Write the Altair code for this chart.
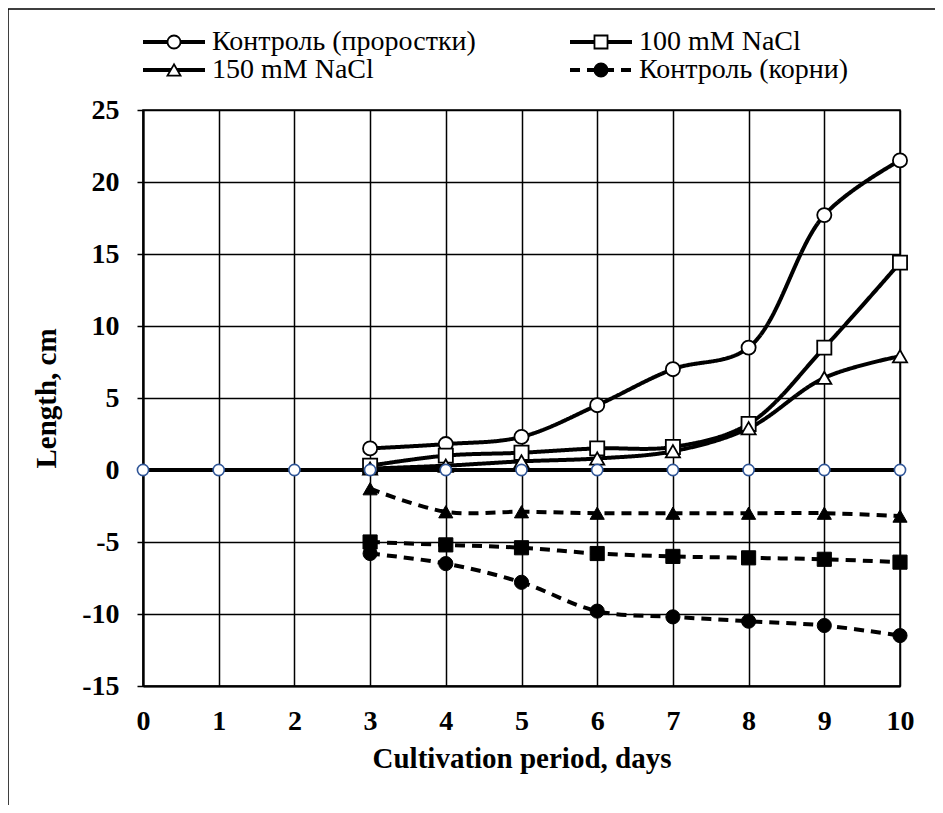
import altair as alt
import pandas as pd

# ---- data ----
days_all = [0, 1, 2, 3, 4, 5, 6, 7, 8, 9, 10]
days = [3, 4, 5, 6, 7, 8, 9, 10]
ctrl_shoots = [1.5, 1.8, 2.3, 4.5, 7.0, 8.5, 17.7, 21.5]
nacl100_shoots = [0.3, 1.0, 1.2, 1.5, 1.6, 3.2, 8.5, 14.4]
nacl150_shoots = [0.1, 0.3, 0.6, 0.8, 1.3, 2.9, 6.4, 7.9]
ctrl_roots = [-5.8, -6.5, -7.8, -9.8, -10.2, -10.5, -10.8, -11.5]
nacl100_roots = [-5.0, -5.2, -5.4, -5.8, -6.0, -6.1, -6.2, -6.4]
nacl150_roots = [-1.3, -2.9, -2.9, -3.0, -3.0, -3.0, -3.0, -3.2]
baseline = [0, 0, 0, 0, 0, 0, 0, 0, 0, 0, 0]

legend_names = ["Контроль (проростки)", "100 mM NaCl", "150 mM NaCl", "Контроль (корни)"]

x_ticks = [0, 1, 2, 3, 4, 5, 6, 7, 8, 9, 10]
y_ticks = [-15, -10, -5, 0, 5, 10, 15, 20, 25]

# ---- tables ----
series = [
    ("s_ctrl", ctrl_shoots, "circle", "open", "solid"),
    ("s_100", nacl100_shoots, "square", "open", "solid"),
    ("s_150", nacl150_shoots, "triangle-up", "open", "solid"),
    ("r_ctrl", ctrl_roots, "circle", "filled", "dash"),
    ("r_100", nacl100_roots, "square", "filled", "dash"),
    ("r_150", nacl150_roots, "triangle-up", "filled", "dash"),
]
rows = []
for name, vals, shp, fill, dash in series:
    for d, v in zip(days, vals):
        rows.append({"series": name, "day": d, "len": v, "shape": shp, "fill": fill, "dash": dash})
df = pd.DataFrame(rows)
df_base = pd.DataFrame({"day": days_all, "len": baseline})

leg = pd.DataFrame({
    "name": legend_names,
    "col": [0, 1, 0, 1],
    "row": [0, 0, 1, 1],
    "shape": ["circle", "square", "triangle-up", "circle"],
    "fill": ["open", "open", "open", "filled"],
    "dash": ["solid", "solid", "solid", "dash"],
})

W, H = 757, 576
FONT = "Liberation Serif"

xs = alt.Scale(domain=[0, 10], nice=False, zero=False)
ys = alt.Scale(domain=[-15, 25], nice=False, zero=False)

X = alt.X("day:Q", scale=xs, axis=alt.Axis(
    values=x_ticks, title="Cultivation period, days", grid=True, tickSize=0,
    labelPadding=21, titlePadding=9, labelExpr="'' + datum.value"))
Y = alt.Y("len:Q", scale=ys, axis=alt.Axis(
    values=y_ticks, title="Length, cm", grid=True, tickSize=6,
    labelPadding=18, titlePadding=20, labelExpr="'' + datum.value"))

dash_scale = alt.Scale(domain=["solid", "dash"], range=[[1, 0], [10, 7]])

lines = alt.Chart(df).mark_line(color="black", strokeWidth=4, interpolate="catmull-rom").encode(
    x=X, y=Y, detail="series:N",
    strokeDash=alt.StrokeDash("dash:N", scale=dash_scale, legend=None),
)

pts_open = alt.Chart(df).transform_filter("datum.fill == 'open'").mark_point(
    filled=True, fill="white", stroke="black", strokeWidth=1.8, size=200, opacity=1
).encode(x="day:Q", y="len:Q", shape=alt.Shape("shape:N", scale=None))

pts_filled = alt.Chart(df).transform_filter("datum.fill == 'filled'").mark_point(
    filled=True, fill="black", stroke="black", strokeWidth=1, size=200, opacity=1
).encode(x="day:Q", y="len:Q", shape=alt.Shape("shape:N", scale=None))

base_line = alt.Chart(df_base).mark_line(color="black", strokeWidth=4).encode(x="day:Q", y="len:Q")
base_pts = alt.Chart(df_base).mark_point(
    shape="circle", filled=True, fill="white", stroke="#2F5597", strokeWidth=1.6, size=125, opacity=1
).encode(x="day:Q", y="len:Q")

# ---- custom legend (pixel layout) ----
leg_base = alt.Chart(leg).transform_calculate(
    x0="datum.col * 427",
    ly="-68 + datum.row * 28",
).transform_calculate(
    x1="datum.x0 + 62", xm="datum.x0 + 31", xt="datum.x0 + 69"
)
leg_line = leg_base.mark_rule(strokeWidth=4, color="black").encode(
    x=alt.X("x0:Q", scale=None), x2="x1:Q", y=alt.Y("ly:Q", scale=None),
    strokeDash=alt.StrokeDash("dash:N", scale=alt.Scale(domain=["solid", "dash"], range=[[1, 0], [9, 6]]), legend=None),
)
leg_open = leg_base.transform_filter("datum.fill == 'open'").mark_point(
    filled=True, fill="white", stroke="black", strokeWidth=1.8, size=170, opacity=1
).encode(x=alt.X("xm:Q", scale=None), y=alt.Y("ly:Q", scale=None), shape=alt.Shape("shape:N", scale=None))
leg_fill = leg_base.transform_filter("datum.fill == 'filled'").mark_point(
    filled=True, fill="black", stroke="black", size=170, opacity=1
).encode(x=alt.X("xm:Q", scale=None), y=alt.Y("ly:Q", scale=None), shape=alt.Shape("shape:N", scale=None))
leg_text = leg_base.mark_text(align="left", baseline="middle", font=FONT, fontSize=28, color="black").encode(
    x=alt.X("xt:Q", scale=None), y=alt.Y("ly:Q", scale=None), text="name:N"
)

# ---- outer frame ----
frame = alt.Chart(pd.DataFrame({"k": [0]})).mark_rect(
    fill=None, stroke="black", strokeWidth=1.5
).encode(x=alt.value(-135), y=alt.value(-101), x2=alt.value(W + 200), y2=alt.value(H + 300))

chart = alt.layer(
    frame, lines, base_line, pts_open, pts_filled, base_pts,
    leg_line, leg_open, leg_fill, leg_text
).properties(
    width=W, height=H,
    padding={"left": 135, "top": 102, "right": 35, "bottom": 119},
    autosize=alt.AutoSizeParams(type="none"),
).configure_view(
    stroke="black", strokeWidth=1.5
).configure_axis(
    gridColor="black", gridWidth=1.5, gridOpacity=1,
    domainColor="black", domainWidth=2.2, tickColor="black", tickWidth=1.5,
    labelFont=FONT, labelFontSize=28, labelFontWeight="bold", labelColor="black",
    titleFont=FONT, titleFontSize=29, titleFontWeight="bold", titleColor="black",
    labelOverlap=False,
).configure_axisX(labelFlush=False)

chart.save("out.html", embed_options={"renderer": "svg", "actions": False})
